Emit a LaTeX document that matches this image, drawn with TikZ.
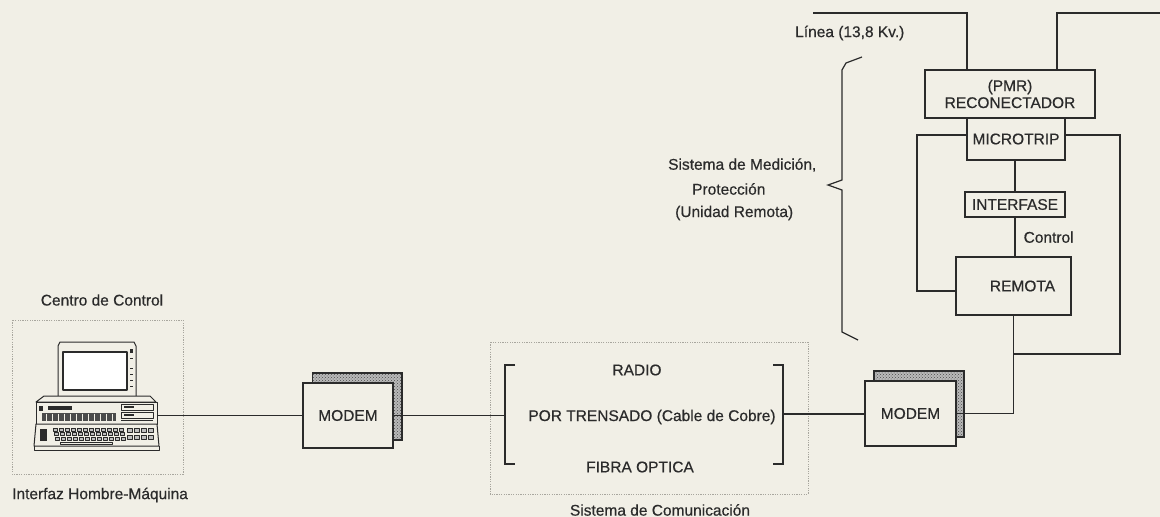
\documentclass[tikz,border=0pt]{standalone}
\usepackage{fontspec}
\setmainfont[FakeBold=0.5]{Liberation Sans}
\usetikzlibrary{patterns}
\definecolor{paper}{HTML}{F1EFE6}
\definecolor{ink}{HTML}{2B2B2B}
\definecolor{dotgray}{HTML}{A8A69E}
\tikzset{
  lbl/.style={font=\fontsize{15.5}{18}\selectfont, text=ink, inner sep=0pt},
  box/.style={draw=ink, line width=1.3pt, fill=paper, lbl, inner sep=0pt},
  wire/.style={draw=ink, line width=1.3pt},
  heavy/.style={draw=ink, line width=2pt},
  dotbox/.style={draw=dotgray, line width=0.8pt, dash pattern=on 1.2pt off 1.2pt},
  shade/.style={draw=ink, line width=1.1pt, preaction={fill=gray!55}, pattern=crosshatch dots, pattern color=ink!85},
}
\begin{document}
\begin{tikzpicture}[x=1pt,y=-1pt]
\useasboundingbox[fill=paper] (0,0) rectangle (1160,517);

% ---------- power line and pole-mounted recloser ----------
\node[box, minimum width=170pt, minimum height=48pt, align=center] (pmr) at (1010,94)
  {(PMR)\\[-1pt]RECONECTADOR};
\node[box, minimum width=98pt, minimum height=42pt] (micro) at (1016,139) {MICROTRIP};
\node[box, line width=2pt, minimum width=100pt, minimum height=25pt] (intf) at (1015,204.5) {INTERFASE};
\node[box, minimum width=115pt, minimum height=58pt] (rem) at (1013.5,286) {\hspace*{18pt}REMOTA};

\coordinate (lineL) at (813,13);
\coordinate (lineR) at (1160,13);
\draw[heavy] (lineL) -- (967,13) -- (pmr.north -| 967,0);
\draw[heavy] (lineR) -- (1057,13) -- (pmr.north -| 1057,0);
\node[lbl, anchor=west] (linea) at (795,33) {Línea (13,8 Kv.)};

% local wiring of the remote unit
\coordinate (cl1) at (917,135);
\coordinate (cl2) at (917,291);
\coordinate (cr1) at (1120,135);
\coordinate (cr2) at (1120,354);
\coordinate (cr3) at (1013.5,354);
\draw[wire] (micro.west |- cl1) -- (cl1) -- (cl2) -- (rem.west |- cl2);
\draw[wire] (micro.east |- cr1) -- (cr1) -- (cr2) -- (cr3);
\draw[wire] (micro.south -| intf.north) -- (intf.north);
\draw[wire] (intf.south) -- (rem.north -| intf.south)
  node[lbl, pos=0.5, anchor=west, xshift=8pt] (ctrl) {Control};

% brace with its caption
\draw[wire, line width=1.2pt] (862,57) -- (846,63) -- (842,70) -- (842,180) -- (828,185)
  -- (842,190) -- (842,332) -- (858,340);
\node[lbl, anchor=west] (med1) at (668,165) {Sistema de Medición,};
\node[lbl, anchor=west] (med2) at (692,189) {Protección};
\node[lbl, anchor=west] (med3) at (675,213) {(Unidad Remota)};

% ---------- control centre ----------
\node[lbl] (cc) at (102,300) {Centro de Control};
\draw[dotbox] (12,320) rectangle (183,474);
\node[lbl, anchor=west] (ihm) at (12,495) {Interfaz Hombre-Máquina};

% personal computer
\node[minimum width=125pt, minimum height=109pt, inner sep=0pt] (pc) at (95.5,397.5) {};
\begin{scope}[draw=ink, line width=1pt, line join=round]
  % monitor
  \draw[fill=paper] (58,346) -- (60,342) -- (134,342) -- (136,346) -- (136,397) -- (58,397) -- cycle;
  \draw[line width=1.3pt, fill=white] (63,352) rectangle (127,390);
  \foreach \yy in {358,368,374,380,386} \draw[line width=1pt] (130,\yy) -- (133,\yy);
  \fill[ink] (130,349) rectangle (133,353);
  % system unit
  \draw[fill=paper] (44,396) -- (150,396) -- (156,402) -- (36,402) -- cycle;
  \draw[fill=paper] (36,402) rectangle (157,424);
  \fill[ink] (39,406) rectangle (43,411);
  \fill[ink] (48,406) rectangle (72,410);
  \fill[ink!85] (42,413) rectangle (116,421);
  \foreach \xx in {46,52,...,112} \draw[paper, line width=0.5pt] (\xx,413.5) -- (\xx,420.5);
  \draw (121,404) rectangle (153,410);
  \draw (121,412) rectangle (153,418);
  \fill[ink] (124,406) rectangle (134,408);
  \fill[ink] (124,414) rectangle (134,416);
  \draw (121,420) -- (153,420);
  % keyboard
  \draw[fill=paper] (36,424) -- (157,424) -- (159,446) -- (34,446) -- cycle;
  \fill[ink] (40,429) rectangle (47,441);
  \foreach \r/\y in {0/428,1/432.5,2/437} {
    \foreach \xx in {53,59,...,119} \draw[line width=0.7pt, fill=gray!50] (\xx+\r,\y) rectangle (\xx+\r+4.5,\y+3);
  }
  \draw[line width=0.7pt] (60,442) rectangle (112,444.5);
  \foreach \xx in {127,134,141,148} {
    \draw[line width=0.7pt, fill=gray!50] (\xx,428) rectangle (\xx+5,432);
    \draw[line width=0.7pt, fill=gray!50] (\xx,435) rectangle (\xx+5,439);
  }
  \draw (34,446) -- (34,450) -- (159,450) -- (159,446);
\end{scope}

% ---------- modems ----------
\draw[shade] (312.5,373) rectangle (402,440);
\node[box, minimum width=90pt, minimum height=65pt] (modemL) at (348,415.5) {MODEM};
\draw[shade] (874,371) rectangle (964,437);
\node[box, minimum width=91pt, minimum height=65pt] (modemR) at (910.5,413.5) {MODEM};

% ---------- communication system ----------
\draw[dotbox] (490,342) rectangle (808,494);
\draw[wire] (515,365) -- (505,365) -- (505,464) -- (515,464);
\draw[wire] (773,365) -- (783,365) -- (783,464) -- (773,464);
\coordinate (brL) at (505,416);
\coordinate (brR) at (783,414);
\node[lbl] (radio) at (637,370) {RADIO};
\node[lbl] (cobre) at (652,417) {POR TRENSADO (Cable de Cobre)};
\node[lbl] (fibra) at (640,467) {FIBRA OPTICA};
\node[lbl] (scom) at (660,510) {Sistema de Comunicación};

% ---------- links ----------
\draw[wire] (pc.east |- modemL.west) -- (modemL.west);
\draw[wire] (modemL.east) -- (modemL.east -| brL);
\draw[wire] (brR) -- (modemR.west |- brR);
\draw[wire] (modemR.east) -| (rem.south);
\end{tikzpicture}
\end{document}
